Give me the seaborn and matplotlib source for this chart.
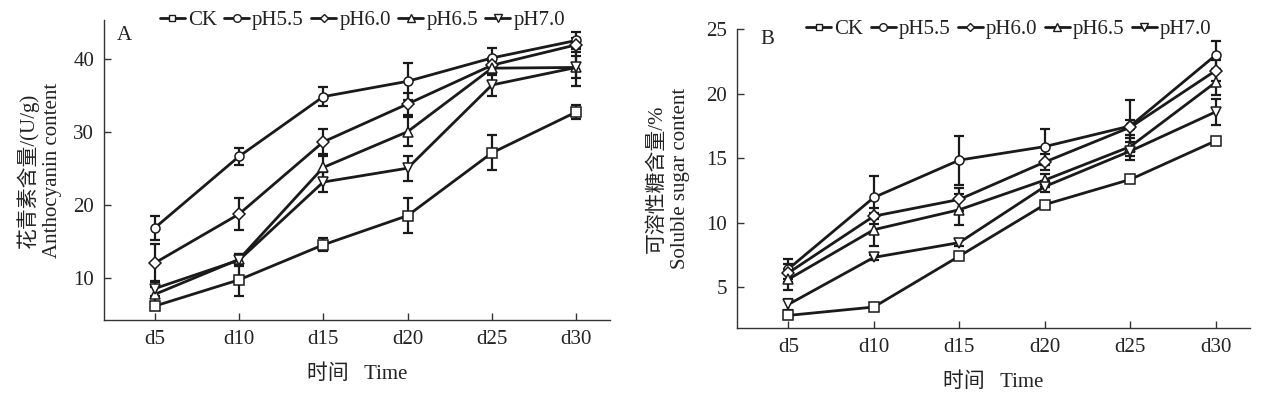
import numpy as np
import pandas as pd
import matplotlib
matplotlib.use("Agg")
import matplotlib.pyplot as plt
from matplotlib.lines import Line2D
import seaborn as sns

days = ["d5", "d10", "d15", "d20", "d25", "d30"]
groups = ["CK", "pH5.5", "pH6.0", "pH6.5", "pH7.0"]

# Panel A: anthocyanin content (U/g)
antho_ck = [6.2, 9.8, 14.6, 18.6, 27.2, 32.8]
antho_55 = [16.9, 26.7, 34.9, 37.0, 40.2, 42.6]
antho_60 = [12.1, 18.8, 28.7, 33.9, 39.2, 42.0]
antho_65 = [7.8, 12.6, 25.2, 30.1, 38.8, 38.9]
antho_70 = [8.6, 12.5, 23.2, 25.1, 36.5, 38.9]
antho_err_ck = [0.5, 2.2, 0.9, 2.4, 2.4, 1.0]
antho_err_55 = [1.6, 1.2, 1.3, 2.5, 1.4, 1.2]
antho_err_60 = [2.6, 2.2, 1.7, 1.5, 1.0, 1.0]
antho_err_65 = [1.0, 0.8, 1.5, 2.0, 1.0, 1.5]
antho_err_70 = [1.0, 0.8, 1.4, 1.7, 1.5, 2.6]

# Panel B: soluble sugar content (%)
sugar_ck = [2.8, 3.45, 7.4, 11.4, 13.35, 16.35]
sugar_55 = [6.4, 11.95, 14.85, 15.9, 17.5, 23.0]
sugar_60 = [6.1, 10.5, 11.8, 14.7, 17.4, 21.8]
sugar_65 = [5.6, 9.45, 11.0, 13.3, 15.9, 20.9]
sugar_70 = [3.65, 7.3, 8.45, 12.8, 15.55, 18.6]
sugar_err_ck = [0.2, 0.3, 0.2, 0.2, 0.3, 0.3]
sugar_err_55 = [0.8, 1.7, 1.9, 1.4, 2.0, 1.1]
sugar_err_60 = [0.7, 0.6, 0.9, 0.6, 0.6, 0.8]
sugar_err_65 = [0.8, 1.3, 1.2, 0.5, 0.7, 1.0]
sugar_err_70 = [0.4, 0.2, 0.3, 0.4, 0.7, 1.0]

yticks_a = [10, 20, 30, 40]
yticks_b = [5, 10, 15, 20, 25]

sns.set_theme(style="ticks")
FAM = ["Liberation Serif", "Noto Sans CJK SC", "DejaVu Sans"]
plt.rcParams["font.family"] = FAM
plt.rcParams["axes.unicode_minus"] = False

markers = {"CK": "s", "pH5.5": "o", "pH6.0": "D", "pH6.5": "^", "pH7.0": "v"}
msizes = {"CK": 6, "pH5.5": 6.5, "pH6.0": 5.5, "pH6.5": 7, "pH7.0": 7}
FS = 15


def build(vals, errs):
    rows = []
    for g, v, e in zip(groups, vals, errs):
        for d, y, s in zip(days, v, e):
            rows.append({"day": d, "group": g, "value": y, "err": s})
    return pd.DataFrame(rows)


df_a = build([antho_ck, antho_55, antho_60, antho_65, antho_70],
             [antho_err_ck, antho_err_55, antho_err_60, antho_err_65, antho_err_70])
df_b = build([sugar_ck, sugar_55, sugar_60, sugar_65, sugar_70],
             [sugar_err_ck, sugar_err_55, sugar_err_60, sugar_err_65, sugar_err_70])

W, H = 1267, 397
fig = plt.figure(figsize=(W / 100, H / 100), dpi=100)
axA = fig.add_axes([104 / W, (H - 320) / H, (610 - 104) / W, (320 - 20) / H])
axB = fig.add_axes([737 / W, (H - 328.3) / H, (1250 - 737) / W, (328.3 - 29.3) / H])


def draw(ax, df, ylim, yticks, ylabel, letter, leg_x, letter_xy, ylabelpad):
    for g in groups:
        sub = df[df["group"] == g]
        ax.errorbar(sub["day"], sub["value"], yerr=sub["err"], fmt="none",
                    ecolor="#1a1a1a", elinewidth=1.6, capsize=3.5, capthick=1.6, zorder=2)
    sns.lineplot(data=df, x="day", y="value", style="group", markers=markers,
                 dashes=False, color="#1a1a1a", linewidth=2.0, sort=False,
                 markersize=6.5, markerfacecolor="white", markeredgecolor="#1a1a1a",
                 markeredgewidth=1.1, errorbar=None, legend=False, ax=ax, zorder=3)
    ax.set_xlim(-0.6, 5.4)
    ax.set_ylim(*ylim)
    ax.set_yticks(yticks)
    ax.set_xticks(range(len(days)))
    ax.set_xticklabels(days)
    sns.despine(ax=ax)
    for sp in ["left", "bottom"]:
        ax.spines[sp].set_linewidth(1.0)
        ax.spines[sp].set_color("#333333")
    ax.tick_params(direction="in", length=5, width=1.0, colors="#333333",
                   labelsize=FS, labelcolor="#222222", pad=7)
    ax.set_xlabel("时间   Time", fontsize=FS, color="#222222", labelpad=11, family=FAM)
    ax.set_ylabel(ylabel, fontsize=FS, color="#222222", labelpad=ylabelpad, family=FAM,
                  linespacing=1.3)
    ax.text(letter_xy[0], letter_xy[1], letter, transform=ax.transAxes, fontsize=FS,
            color="#222222", va="center", ha="left", family=FAM)
    handles = [Line2D([0], [0], color="#1a1a1a", lw=2.0, marker=markers[g],
                      markersize=msizes[g] - 1, markerfacecolor="white",
                      markeredgecolor="#1a1a1a", markeredgewidth=1.0) for g in groups]
    leg = ax.legend(handles, groups, loc="center left", bbox_to_anchor=(leg_x, 1.0),
                    ncol=5, frameon=False, handlelength=1.2,
                    handletextpad=0.15, columnspacing=0.35, borderpad=0, borderaxespad=0,
                    prop={"family": FAM, "size": FS})
    for t in leg.get_texts():
        t.set_color("#222222")


draw(axA, df_a, (4.3, 45.4), yticks_a, "花青素含量/(U/g)\nAnthocyanin content", "A",
     0.11, (0.025, 0.95), 8)
draw(axB, df_b, (1.8, 25.0), yticks_b, "可溶性糖含量/%\nSoluble sugar content", "B",
     0.135, (0.045, 0.965), 12)

fig.savefig("out.png", dpi=100)
